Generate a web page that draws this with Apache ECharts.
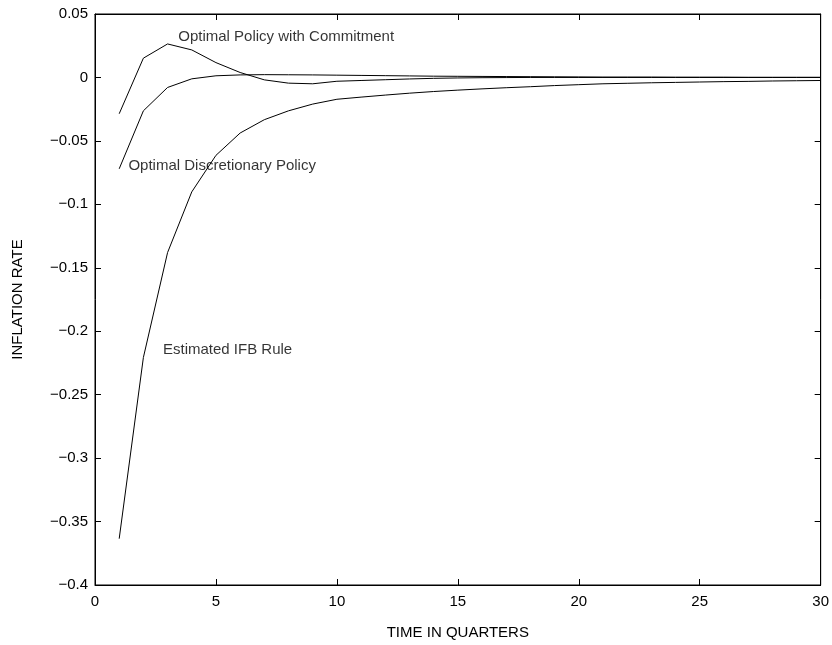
<!DOCTYPE html>
<html>
<head>
<meta charset="utf-8">
<script src="https://cdn.jsdelivr.net/npm/echarts@6/dist/echarts.min.js"></script>
<style>html,body{margin:0;padding:0;background:#fff}#c{width:832px;height:645px}</style>
</head>
<body>
<div id="c"></div>
<script>
var quarters = [1,2,3,4,5,6,7,8,9,10,11,12,13,14,15,16,17,18,19,20,21,22,23,24,25,26,27,28,29,30];
var commitment = [-0.0286,0.0152,0.0264,0.0217,0.0117,0.0039,-0.0019,-0.0045,-0.0050,-0.0030,-0.0024,-0.0018,-0.0012,-0.0007,-0.0004,-0.0002,-0.0001,0,0,0,0,0,0,0,0,0,0,0,0,0];
var discretionary = [-0.0720,-0.0263,-0.0079,-0.0011,0.0013,0.0020,0.0022,0.0021,0.0020,0.0018,0.0016,0.0014,0.0012,0.0010,0.0009,0.0008,0.0007,0.0006,0.0005,0.0004,0.0003,0.0003,0.0003,0.0002,0.0002,0.0002,0.0001,0.0001,0.0001,0.0001];
var ifbRule = [-0.3635,-0.2207,-0.1380,-0.0902,-0.0614,-0.0438,-0.0333,-0.0263,-0.0210,-0.0172,-0.0155,-0.0139,-0.0124,-0.0111,-0.0100,-0.0090,-0.0081,-0.0073,-0.0064,-0.0057,-0.0050,-0.0046,-0.0042,-0.0039,-0.0036,-0.0033,-0.0031,-0.0028,-0.0026,-0.0024];
var annotationTexts = ['Optimal Policy with Commitment','Optimal Discretionary Policy','Estimated IFB Rule'];
var annotationX = [3.44, 1.38, 2.81];
var annotationY = [0.0319, -0.0693, -0.2147];

function pairs(xs, ys){ return xs.map(function(x,i){ return [x, ys[i]]; }); }
var FONT = 'Liberation Sans, Arial, sans-serif';
var lineStyle = {color:'#000', width:1};
function fmtY(v){ var r = Math.round(v*100)/100; return String(r).replace('-', '\u2212'); }

var chart = echarts.init(document.getElementById('c'), null, {renderer:'canvas'});
chart.setOption({
  animation:false,
  backgroundColor:'#fff',
  grid:{left:95, top:14, right:11, bottom:58, show:true, borderColor:'#000', borderWidth:1, backgroundColor:'transparent'},
  xAxis:[{
    type:'value', min:0, max:30, interval:5, position:'bottom',
    name:'TIME IN QUARTERS', nameLocation:'middle', nameGap:40,
    nameTextStyle:{fontFamily:FONT, fontSize:15, color:'#000'},
    axisLine:{show:true, onZero:false, lineStyle:{color:'#000', width:1}},
    axisTick:{show:true, inside:true, length:6, lineStyle:{color:'#000'}},
    axisLabel:{fontFamily:FONT, fontSize:15, color:'#000', margin:9},
    splitLine:{show:false}
  },{
    type:'value', min:0, max:30, interval:5, position:'top',
    axisLine:{show:true, onZero:false, lineStyle:{color:'#000', width:1}},
    axisTick:{show:true, inside:true, length:6, lineStyle:{color:'#000'}},
    axisLabel:{show:false}, splitLine:{show:false}
  }],
  yAxis:[{
    type:'value', min:-0.4, max:0.05, interval:0.05, position:'left',
    name:'INFLATION RATE', nameLocation:'middle', nameGap:70, nameRotate:90,
    nameTextStyle:{fontFamily:FONT, fontSize:15, color:'#000'},
    axisLine:{show:true, onZero:false, lineStyle:{color:'#000', width:1}},
    axisTick:{show:true, inside:true, length:6, lineStyle:{color:'#000'}},
    axisLabel:{fontFamily:FONT, fontSize:15, color:'#000', margin:7, formatter:fmtY},
    splitLine:{show:false}
  },{
    type:'value', min:-0.4, max:0.05, interval:0.05, position:'right',
    axisLine:{show:true, onZero:false, lineStyle:{color:'#000', width:1}},
    axisTick:{show:true, inside:true, length:6, lineStyle:{color:'#000'}},
    axisLabel:{show:false}, splitLine:{show:false}
  }],
  series:[
    {type:'line', name:'Commitment', data:pairs(quarters, commitment), showSymbol:false, symbol:'none', lineStyle:lineStyle, itemStyle:{color:'#000'}},
    {type:'line', name:'Discretionary', data:pairs(quarters, discretionary), showSymbol:false, symbol:'none', lineStyle:lineStyle, itemStyle:{color:'#000'}},
    {type:'line', name:'IFB', data:pairs(quarters, ifbRule), showSymbol:false, symbol:'none', lineStyle:lineStyle, itemStyle:{color:'#000'}},
    {type:'scatter', name:'labels', symbolSize:0, silent:true,
     data:annotationTexts.map(function(t,i){ return {name:t, value:[annotationX[i], annotationY[i]]}; }),
     label:{show:true, position:'inside', align:'left', verticalAlign:'middle', formatter:function(p){return p.name;}, fontFamily:FONT, fontSize:15, color:'#000', textBorderWidth:0}}
  ]
});
</script>
</body>
</html>
